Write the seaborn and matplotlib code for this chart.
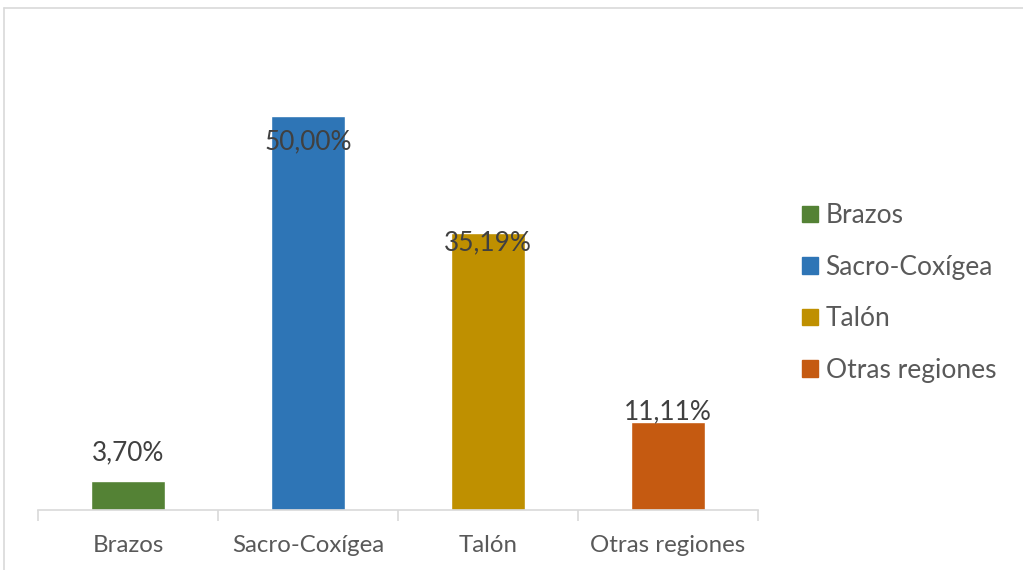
import matplotlib
matplotlib.use("Agg")
import matplotlib.pyplot as plt
from matplotlib.lines import Line2D
import seaborn as sns
import pandas as pd

# Data
categories = ["Brazos", "Sacro-Coxígea", "Talón", "Otras regiones"]
percentages = [3.70, 50.00, 35.19, 11.11]
colors = ["#548235", "#2E75B6", "#BF9000", "#C55A11"]
# pixel offsets of the data labels relative to bar tops (as in the original)
label_offsets = [28, -26, -10, 11]

df = pd.DataFrame({"region": categories, "pct": percentages})

sns.set_theme(style="white")
plt.rcParams["font.family"] = ["Lato", "DejaVu Sans"]

W, H = 1023, 570
fig = plt.figure(figsize=(W / 100, H / 100), dpi=100)
ax = fig.add_axes([38 / W, (H - 510) / H, 720 / W, 472 / H])

sns.barplot(data=df, x="region", y="pct", hue="region", palette=colors,
            order=categories, hue_order=categories, width=74 / 180,
            dodge=False, legend=True, ax=ax, saturation=1)

ax.set_ylim(0, 59.9)
ax.set_xlim(-0.5, 3.5)
ax.set_xlabel("")
ax.set_ylabel("")
ax.set_yticks([])
for s in ["top", "right", "left"]:
    ax.spines[s].set_visible(False)
ax.spines["bottom"].set_color("#d9d9d9")
ax.spines["bottom"].set_linewidth(1.2)

ax.set_xticks(range(len(categories)))
ax.set_xticklabels(categories, fontsize=17.3, color="#595959")
ax.tick_params(axis="x", which="major", length=0, pad=18)
ax.set_xticks([i - 0.5 for i in range(len(categories) + 1)], minor=True)
ax.tick_params(axis="x", which="minor", length=8, color="#d9d9d9", width=1.2,
               direction="out", bottom=True)

# data labels
for i, (v, off) in enumerate(zip(percentages, label_offsets)):
    ax.annotate(f"{v:.2f}".replace(".", ",") + "%", (i, v),
                xytext=(0, off * 0.72), textcoords="offset points",
                ha="center", va="center", fontsize=18.9, color="#404040")

# legend
handles = [plt.Rectangle((0, 0), 1, 1, color=c) for c in colors]
leg = ax.legend(handles, categories, loc="center left",
                bbox_to_anchor=(778 / W, (H - 293) / H),
                bbox_transform=fig.transFigure, frameon=False,
                fontsize=19, handlelength=0.6, handleheight=0.6,
                handletextpad=0.3, labelspacing=1.0, labelcolor="#595959")

# chart border
fig.add_artist(Line2D([4 / W, 1.0], [(H - 8) / H] * 2, color="#d9d9d9", lw=1.2))
fig.add_artist(Line2D([4 / W] * 2, [0, (H - 8) / H], color="#d9d9d9", lw=1.2))

fig.savefig("out.png", dpi=100)
